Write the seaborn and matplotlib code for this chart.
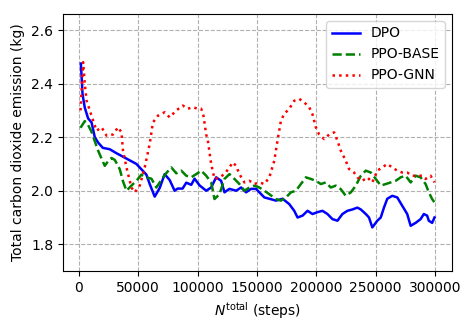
import matplotlib
matplotlib.use("Agg")
import matplotlib.pyplot as plt
import seaborn as sns
import pandas as pd

dpo_x = [1700, 3100, 5000, 7800, 10700, 13400, 16200, 20200, 26000, 31700, 40100, 48500,
         52700, 56900, 59700, 63900, 68100, 72300, 76500, 80700, 83200, 87400, 90500, 94700,
         97500, 101700, 107300, 111500, 115700, 119900, 122700, 126900, 132500, 136700,
         140900, 145100, 149300, 152100, 156300, 160500, 166100, 171700, 177300, 181500,
         184300, 188500, 192700, 196900, 201100, 205300, 209500, 213700, 217900, 222100,
         226300, 230500, 234700, 237600, 241800, 244500, 247300, 251500, 254400, 257100,
         259900, 264100, 268300, 272500, 276700, 279600, 283800, 288000, 290700, 293500,
         294900, 297700, 299700]
dpo_y = [2.475, 2.36, 2.31, 2.27, 2.255, 2.20, 2.18, 2.16, 2.155, 2.14, 2.12, 2.10,
         2.08, 2.06, 2.025, 1.978, 2.01, 2.062, 2.04, 2.0, 2.008, 2.008, 2.03, 2.022,
         2.045, 2.02, 2.0, 2.012, 2.05, 2.037, 1.994, 2.007, 2.0, 2.012,
         1.994, 2.007, 2.007, 1.994, 1.975, 1.97, 1.963, 1.97, 1.95, 1.925,
         1.90, 1.907, 1.925, 1.913, 1.92, 1.925, 1.913, 1.894, 1.888, 1.913,
         1.925, 1.93, 1.937, 1.93, 1.913, 1.90, 1.863, 1.888, 1.90, 1.937,
         1.97, 1.981, 1.975, 1.944, 1.913, 1.869, 1.88, 1.894, 1.913, 1.907,
         1.888, 1.88, 1.90]

base_x = [1400, 5000, 7800, 10700, 13400, 16200, 19100, 21800, 24600, 27500, 30300, 34500,
          37200, 40100, 44300, 48500, 52700, 56900, 61100, 65300, 69500, 73700, 77900,
          82100, 86300, 90500, 94700, 98900, 103100, 107300, 111500, 114300, 118500,
          122700, 126900, 131100, 135300, 139500, 143700, 147900, 152100, 156300, 160500,
          166100, 170300, 174500, 178700, 182900, 187100, 191300, 195500, 199700, 203900,
          208100, 212300, 216500, 220700, 224900, 229200, 233400, 237600, 241800, 246000,
          250200, 254400, 258600, 262800, 267000, 271200, 275400, 279600, 283800, 288000,
          292200, 294900, 297700, 299700]
base_y = [2.235, 2.26, 2.245, 2.22, 2.185, 2.15, 2.12, 2.093, 2.11, 2.122, 2.115, 2.08,
          2.035, 2.0, 2.019, 2.037, 2.06, 2.05, 2.045, 2.012, 2.04, 2.066, 2.087,
          2.065, 2.075, 2.056, 2.05, 2.062, 2.075, 2.056, 2.031, 1.969, 1.987,
          2.044, 2.062, 2.044, 2.025, 2.0, 2.012, 2.019, 2.012, 2.0, 1.987,
          1.969, 1.963, 1.975, 1.994, 2.0, 2.025, 2.05, 2.044, 2.037, 2.025,
          2.031, 2.012, 2.019, 2.006, 1.981, 1.994, 2.019, 2.056, 2.075, 2.068,
          2.044, 2.019, 2.025, 2.031, 2.037, 2.05, 2.056, 2.031, 2.056, 2.05,
          2.025, 1.994, 1.969, 1.956]

gnn_x = [1400, 3600, 5000, 6500, 9200, 12000, 14900, 19100, 23300, 28800, 33000, 35900,
         37200, 40100, 44300, 47100, 51300, 55500, 59700, 62400, 66600, 72300, 76500,
         82100, 87600, 91800, 96000, 100200, 103100, 105000, 107300, 108700, 111500,
         114300, 118500, 122700, 126900, 129700, 132500, 135300, 139500, 143700, 147900,
         152100, 156300, 160500, 164700, 167500, 170300, 173100, 177300, 181500, 185700,
         189900, 194100, 196900, 199700, 202500, 206700, 210900, 215100, 217900, 220700,
         224900, 227700, 231900, 234700, 238900, 243100, 247300, 251500, 255700, 259900,
         264100, 268300, 272500, 276700, 280900, 285100, 289300, 292200, 296400, 299700]
gnn_y = [2.30, 2.48, 2.40, 2.336, 2.30, 2.262, 2.224, 2.237, 2.206, 2.21, 2.237, 2.218,
         2.15, 2.087, 2.012, 1.994, 2.019, 2.087, 2.175, 2.255, 2.28, 2.293, 2.274,
         2.30, 2.318, 2.306, 2.312, 2.306, 2.306, 2.28, 2.21, 2.187, 2.10,
         2.044, 2.05, 2.062, 2.087, 2.106, 2.093, 2.062, 2.031, 2.037, 2.025,
         2.031, 2.025, 2.05, 2.112, 2.19, 2.262, 2.287, 2.306, 2.336, 2.343,
         2.33, 2.312, 2.285, 2.237, 2.21, 2.193, 2.21, 2.218, 2.187, 2.15,
         2.112, 2.081, 2.068, 2.05, 2.037, 2.05, 2.031, 2.075, 2.087, 2.10,
         2.087, 2.075, 2.068, 2.068, 2.056, 2.056, 2.056, 2.044, 2.056, 2.031]

series = [
    ("DPO", dpo_x, dpo_y, "blue", "-"),
    ("PPO-BASE", base_x, base_y, "green", "--"),
    ("PPO-GNN", gnn_x, gnn_y, "red", ":"),
]

fig = plt.figure(figsize=(4.76, 3.33), dpi=100)
ax = fig.add_axes([0.132, 0.186, 0.818, 0.772])
for name, xs, ys, col, ls in series:
    df = pd.DataFrame({"x": xs, "y": ys})
    sns.lineplot(data=df, x="x", y="y", ax=ax, color=col, linestyle=ls,
                 linewidth=1.8, label=name, sort=False, estimator=None)

ax.set_ylim(1.70, 2.66)
ax.set_yticks([1.8, 2.0, 2.2, 2.4, 2.6])
ax.set_xticks([0, 50000, 100000, 150000, 200000, 250000, 300000])
ax.ticklabel_format(axis="x", style="plain")
ax.grid(True, linestyle="--", color="#b0b0b0", linewidth=0.8)
ax.set_axisbelow(True)
ax.set_xlabel(r"$N^{\mathrm{total}}$ (steps)", fontsize=10)
ax.set_ylabel("Total carbon dioxide emission (kg)", fontsize=10)
ax.tick_params(labelsize=10)
ax.legend(loc="upper right", fontsize=10, framealpha=0.8)
fig.savefig("out.png", dpi=100)
